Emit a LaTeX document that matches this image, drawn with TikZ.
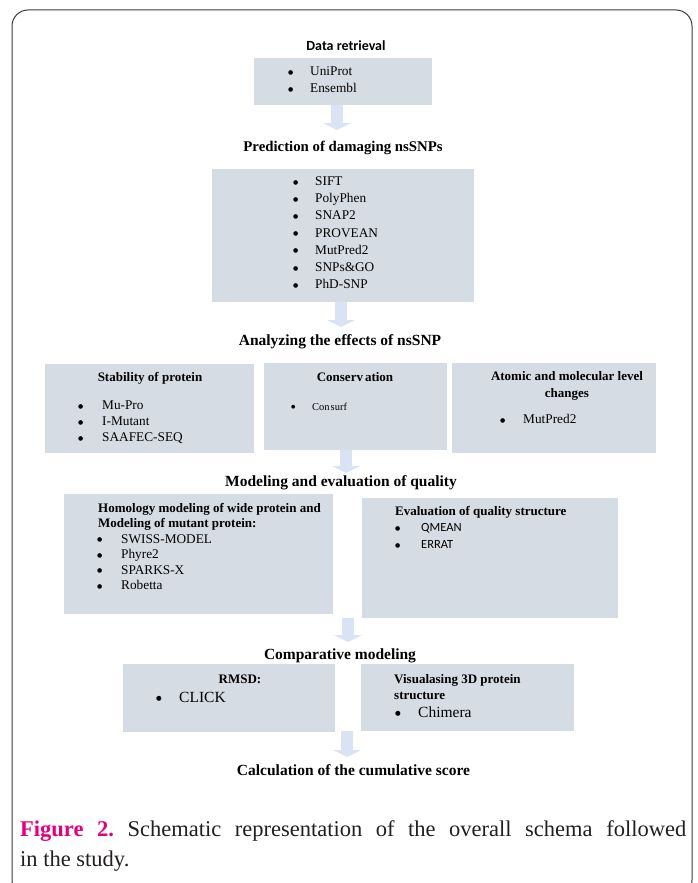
\documentclass[tikz,border=0pt]{standalone}
\usepackage{fontspec}
\setmainfont{Liberation Serif}
\newfontfamily\calib{Carlito}
\newfontfamily\dvs{DejaVu Sans}
\usetikzlibrary{arrows.meta}
\definecolor{boxfill}{HTML}{D6DCE4}
\definecolor{arrfill}{HTML}{DAE3F3}
\definecolor{figmag}{HTML}{E4007C}
\definecolor{framec}{HTML}{3A3A3A}
\definecolor{captxt}{HTML}{231F20}
\frenchspacing
\newcommand{\myfs}[1]{\fontsize{#1}{#1}\selectfont}
\newcommand{\bul}[1]{\makebox[#1][l]{\raisebox{1.4pt}{\dvs\myfs{6}●}}}
\begin{document}
\begin{tikzpicture}[x=1pt,y=-1pt,
  box/.style={fill=boxfill, draw=none, inner sep=0pt, outer sep=0pt, anchor=north west},
  ttl/.style={font=\bfseries\myfs{15.5}, inner sep=0pt, anchor=base},
  subc/.style={font=\bfseries\myfs{13}, inner sep=0pt, anchor=base, text height=9pt, text depth=2.5pt},
  subl/.style={font=\bfseries\myfs{13}, inner sep=0pt, anchor=base west, text height=9pt, text depth=2.5pt},
  itm/.style={font=\myfs{13.3}, inner sep=0pt, anchor=base west, text height=9pt, text depth=2.5pt},
  itmb/.style={font=\myfs{15.5}, inner sep=0pt, anchor=base west, text height=10.5pt, text depth=3pt},
  itms/.style={font=\calib\myfs{12.5}, inner sep=0pt, anchor=base west, text height=9pt, text depth=2.5pt},
  blk/.style={draw=arrfill, line width=12pt, -{Triangle[width=28pt,length=7pt]}}
]
\useasboundingbox (0,0) rectangle (697,883);
\clip (0,0) rectangle (697,883);
\draw[framec, line width=1pt, rounded corners=16pt] (12,10) rectangle (692,896);

% arrow tips
\coordinate (a1) at (337,130);
\coordinate (a2) at (341,327);
\coordinate (a3) at (346,473);
\coordinate (a4) at (348,642);
\coordinate (a5) at (347,757);

% boxes
\node[box, minimum width=178pt, minimum height=47pt] (b1) at (254,58) {};
\node[box, minimum width=262pt, minimum height=133pt] (b2) at (212,169) {};
\node[box, minimum width=209pt, minimum height=89pt] (b3a) at (45,364) {};
\node[box, minimum width=183pt, minimum height=87pt] (b3b) at (264,363) {};
\node[box, minimum width=204pt, minimum height=90pt] (b3c) at (452,363) {};
\node[box, minimum width=269pt, minimum height=120pt] (b4a) at (64,494) {};
\node[box, minimum width=256pt, minimum height=120pt] (b4b) at (362,498) {};
\node[box, minimum width=212pt, minimum height=68pt] (b5a) at (123,664) {};
\node[box, minimum width=213pt, minimum height=67pt] (b5b) at (361,664) {};

% arrows
\draw[blk] (b1.south -| a1) -- (a1);
\draw[blk] (b2.south -| a2) -- (a2);
\draw[blk] (b3b.south -| a3) -- (a3);
\draw[blk] (b4b.south -| a4) -- (a4);
\draw[blk] (b5b.south -| a5) -- (a5);

% titles
\node[font=\calib\bfseries\myfs{14}, inner sep=0pt, anchor=base] (t1) at (346,51) {Data retrieval};
\node[ttl, font=\bfseries\myfs{14.8}] (t2) at (343,151) {Prediction of damaging nsSNPs};
\node[ttl] (t3) at (340,345) {Analyzing the effects of nsSNP};
\node[ttl] (t4) at (341,486) {Modeling and evaluation of quality};
\node[ttl] (t5) at (340,659) {Comparative modeling};
\node[ttl] (t6) at (353.5,775) {Calculation of the cumulative score};

% box 1
\node[itm] (b1i1) at (288,75.5) {\bul{22pt}UniProt};
\node[itm] (b1i2) at (288,92.5) {\bul{22pt}Ensembl};

% box 2
\foreach \t [count=\i] in {SIFT,PolyPhen,SNAP2,PROVEAN,MutPred2,{SNPs\&GO},PhD-SNP}
  \node[itm] (b2i\i) at (293,{185.5+17.2*(\i-1)}) {\bul{22pt}\t};

% box 3a
\node[subc] (s3a) at (150,381.5) {Stability of protein};
\node[itm] (b3ai1) at (78,409.5) {\bul{24pt}Mu-Pro};
\node[itm] (b3ai2) at (78,425.5) {\bul{24pt}I-Mutant};
\node[itm] (b3ai3) at (78,441.5) {\bul{24pt}SAAFEC-SEQ};

% box 3b
\node[subc] (s3b) at (355,381) {Conserv\hspace{2pt}ation};
\node[itm, font=\myfs{10.5}] (b3bi1) at (291,410) {\makebox[21pt][l]{\raisebox{1.1pt}{\dvs\myfs{5}●}}Con\hspace{1pt}surf};

% box 3c
\node[subc] (s3c1) at (567,380) {Atomic and molecular level};
\node[subc] (s3c2) at (567,397) {changes};
\node[itm] (b3ci1) at (500,423.5) {\bul{23pt}MutPred2};

% box 4a
\node[subl] (s4a1) at (98,512) {Homology modeling of wide protein and};
\node[subl] (s4a2) at (98,527) {Modeling of mutant protein:};
\node[itm] (b4ai1) at (97,543) {\bul{24pt}SWISS-MODEL};
\node[itm] (b4ai2) at (97,558.5) {\bul{24pt}Phyre2};
\node[itm] (b4ai3) at (97,574) {\bul{24pt}SPARKS-X};
\node[itm] (b4ai4) at (97,589.5) {\bul{24pt}Robetta};

% box 4b
\node[subl] (s4b) at (395,515) {Evaluation of quality structure};
\node[itms] (b4bi1) at (395,531.5) {\bul{26pt}QMEAN};
\node[itms] (b4bi2) at (395,548.5) {\bul{26pt}ERRAT};

% box 5a
\node[subc] (s5a) at (240,683.5) {RMSD:};
\node[itmb] (b5ai1) at (156,702) {\makebox[23pt][l]{\raisebox{1.7pt}{\dvs\myfs{6.5}●}}CLICK};

% box 5b
\node[subl] (s5b1) at (394,683.5) {Visualasing 3D protein};
\node[subl] (s5b2) at (394,699.5) {structure};
\node[itmb] (b5bi1) at (395,717.5) {\makebox[23pt][l]{\raisebox{1.7pt}{\dvs\myfs{6.5}●}}Chimera};

% caption
\node[anchor=base west, inner sep=0pt, font=\myfs{22.5}, text=captxt] (cap1) at (20,836)
  {\makebox[666pt][s]{\textcolor{figmag}{\bfseries Figure 2.} Schematic representation of the overall schema followed}};
\node[anchor=base west, inner sep=0pt, font=\myfs{22.5}, text=captxt] (cap2) at (20,866) {in the study.};
\end{tikzpicture}
\end{document}
